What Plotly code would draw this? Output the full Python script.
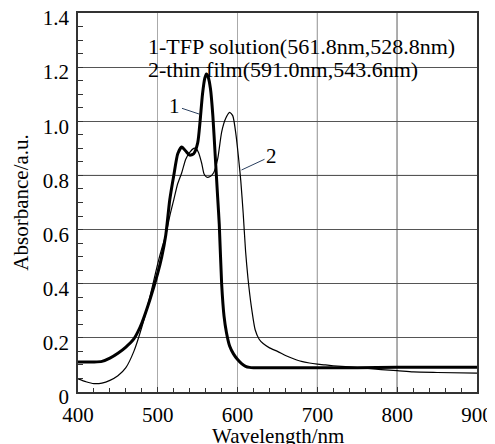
import plotly.graph_objects as go

# curve 1: TFP solution (thick)
sol_wl = [400, 410, 420, 430, 440, 450, 460, 470, 475, 480, 490, 500, 505, 510, 515, 520,
          525, 530, 535, 540, 545, 550, 553, 556, 559, 561, 563, 566, 569, 572, 575,
          577, 580, 583, 586, 590, 595, 600, 605, 610, 615, 620, 650, 700, 750, 800,
          850, 900]
sol_abs = [0.111, 0.111, 0.111, 0.113, 0.125, 0.143, 0.166, 0.196, 0.222, 0.255, 0.34, 0.44,
           0.5, 0.58, 0.71, 0.80, 0.88, 0.905, 0.89, 0.875, 0.88, 0.92, 1.0, 1.10, 1.16,
           1.175, 1.165, 1.12, 1.02, 0.87, 0.72, 0.62, 0.40, 0.28, 0.22, 0.17, 0.14, 0.12,
           0.105, 0.095, 0.091, 0.09, 0.09, 0.09, 0.09, 0.091, 0.091, 0.091]

# curve 2: thin film (thin)
film_wl = [400, 410, 420, 430, 440, 450, 460, 470, 480, 490, 500, 505, 510, 515, 520,
           525, 530, 535, 540, 545, 548, 551, 555, 558, 561, 565, 570, 575, 580, 585,
           590, 594, 598, 601, 604, 607, 610, 613, 617, 622, 627, 632, 640, 650, 660,
           670, 680, 690, 700, 710, 720, 740, 760, 780, 800, 820, 850, 900]
film_abs = [0.049, 0.038, 0.031, 0.033, 0.043, 0.06, 0.09, 0.15, 0.24, 0.35, 0.475, 0.53,
            0.58, 0.65, 0.71, 0.77, 0.81, 0.86, 0.885, 0.90, 0.90, 0.885, 0.845, 0.805,
            0.794, 0.795, 0.81, 0.86, 0.96, 1.01, 1.033, 1.02, 0.95, 0.87, 0.78, 0.66,
            0.52, 0.42, 0.32, 0.23, 0.195, 0.179, 0.163, 0.15, 0.135, 0.123, 0.113, 0.107,
            0.103, 0.100, 0.097, 0.093, 0.088, 0.083, 0.079, 0.074, 0.072, 0.070]

y_ticks = [0, 0.2, 0.4, 0.6, 0.8, 1.0, 1.2, 1.4]
y_labels = ["0", "0.2", "0.4", "0.6", "0.8", "1.0", "1.2", "1.4"]
legend_lines = ["1-TFP solution(561.8nm,528.8nm)", "2-thin film(591.0nm,543.6nm)"]
font = "Liberation Serif"

fig = go.Figure()
fig.add_trace(go.Scatter(x=film_wl, y=film_abs, mode="lines",
                         line=dict(color="black", width=1.2, shape="spline", smoothing=0.6)))
fig.add_trace(go.Scatter(x=sol_wl, y=sol_abs, mode="lines",
                         line=dict(color="black", width=3, shape="spline", smoothing=0.6)))

# darker grid lines
for xv in [700, 800]:
    fig.add_shape(type="line", x0=xv, x1=xv, y0=0, y1=1.4, layer="below",
                  line=dict(color="black", width=1))
fig.add_shape(type="line", x0=400, x1=900, y0=0.8, y1=0.8, layer="below",
              line=dict(color="black", width=1))

fig.add_annotation(x=0.17, y=0.95, xref="paper", yref="paper", xanchor="left",
                   text=legend_lines[0], showarrow=False, font=dict(family=font, size=22))
fig.add_annotation(x=0.17, y=0.889, xref="paper", yref="paper", xanchor="left",
                   text=legend_lines[1], showarrow=False, font=dict(family=font, size=22))
fig.add_annotation(x=551.6, y=1.027, text="1", showarrow=True, arrowhead=0,
                   arrowwidth=1, ax=-24, ay=-8, font=dict(family=font, size=21))
fig.add_annotation(x=604.9, y=0.82, text="2", showarrow=True, arrowhead=0,
                   arrowwidth=1, ax=30, ay=-14, font=dict(family=font, size=21))

# axis titles
fig.add_annotation(x=0.5, y=-0.115, xref="paper", yref="paper", yanchor="middle",
                   text="Wavelength/nm", showarrow=False, font=dict(family=font, size=21))
fig.add_annotation(x=-0.145, y=0.5, xref="paper", yref="paper", xanchor="center",
                   text="Absorbance/a.u.", textangle=-90, showarrow=False,
                   font=dict(family=font, size=21))

# page body has an 8px margin, so the figure is shrunk to fit the window
fig.update_layout(
    width=487, height=436,
    margin=dict(l=70, r=18, t=5, b=52),
    plot_bgcolor="white", paper_bgcolor="white",
    showlegend=False,
    font=dict(family=font, color="black", size=21),
)
fig.update_xaxes(range=[400, 900], dtick=100, showgrid=True, gridcolor="#aaa",
                 showline=True, linecolor="#333", linewidth=1.5, mirror=True,
                 ticks="inside", ticklen=5, tickcolor="#333",
                 minor=dict(dtick=20, ticks="inside", ticklen=4, tickcolor="#333"),
                 tickfont=dict(family=font, size=21), ticklabelstandoff=3,
                 ticklabeloverflow="allow", automargin=False, zeroline=False)
fig.update_yaxes(range=[0, 1.4], tickvals=y_ticks, ticktext=y_labels,
                 showgrid=True, gridcolor="#555",
                 showline=True, linecolor="#333", linewidth=1.5, mirror=True,
                 ticks="inside", ticklen=5, tickcolor="#333",
                 minor=dict(dtick=0.05, ticks="inside", ticklen=5, tickcolor="#333"),
                 tickfont=dict(family=font, size=21), ticklabelstandoff=3,
                 ticklabelshift=5,
                 ticklabeloverflow="allow", automargin=False, zeroline=False)

fig.write_html("out.html")
